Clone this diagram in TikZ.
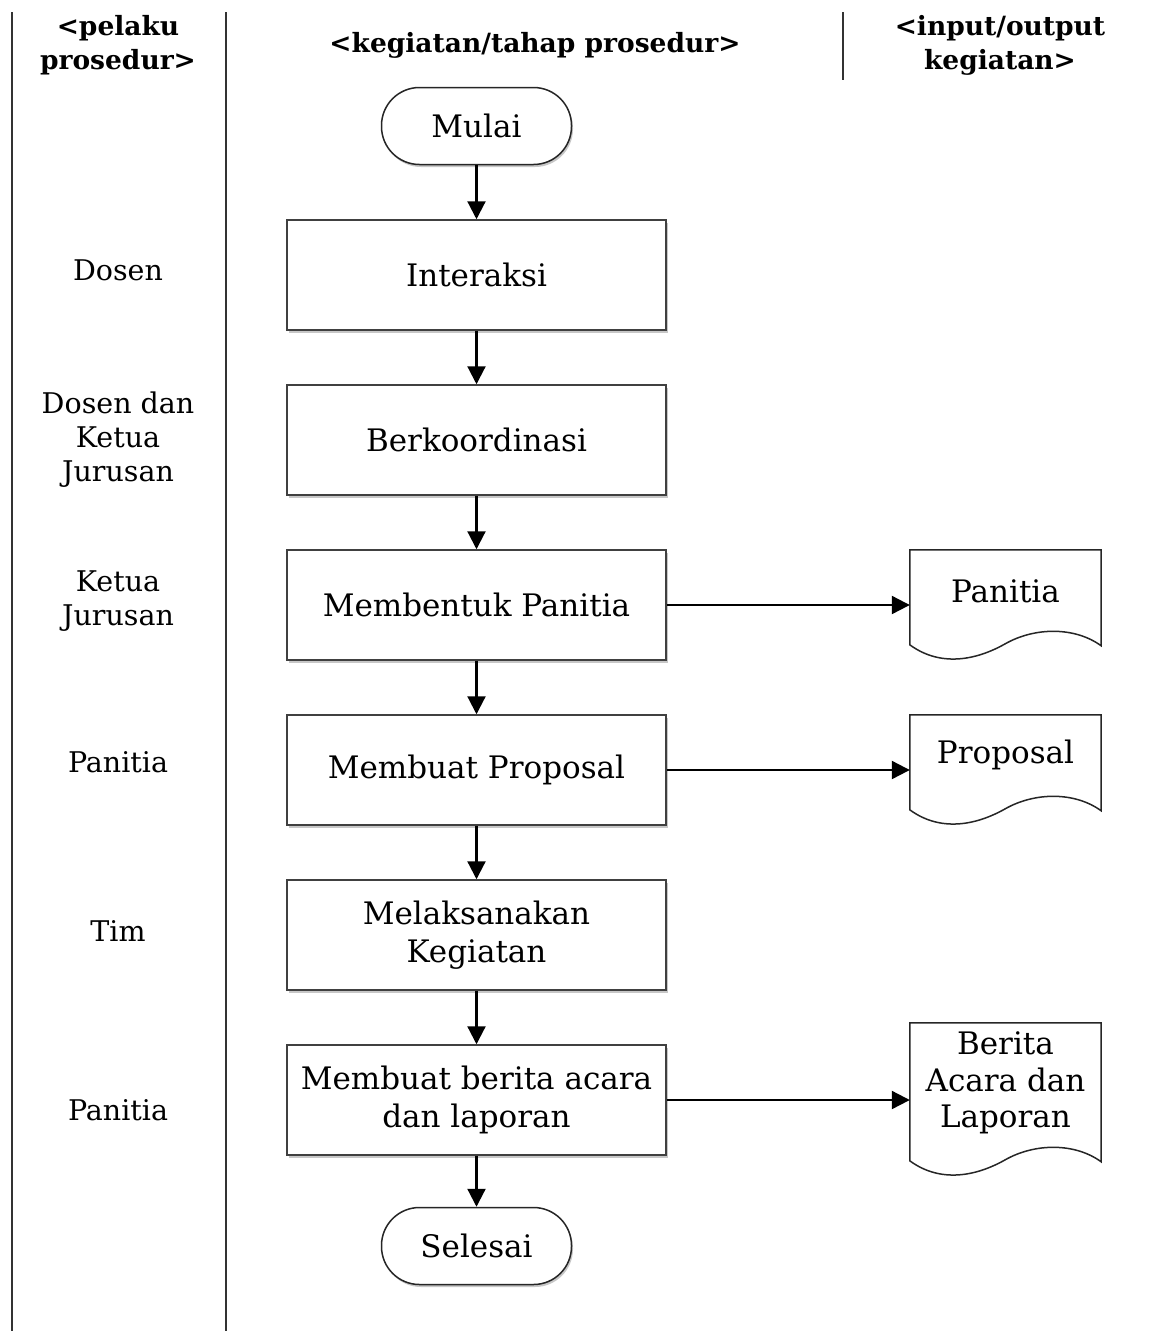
\documentclass[tikz,border=0pt]{standalone}
\usepackage{fontspec}
\setmainfont{DejaVu Serif}
\usetikzlibrary{arrows.meta,calc,shadows}
\tikzset{
  boxfont/.style={font=\fontsize{31}{38}\selectfont},
  proc/.style={boxfont, draw=black!75, line width=1.5pt, minimum width=379pt, minimum height=110pt,
    align=center, fill=white, inner sep=0pt,
    drop shadow={shadow xshift=1.5pt, shadow yshift=-2.5pt, fill=black!22, opacity=1}},
  term/.style={boxfont, draw=black!85, line width=1.5pt, rounded corners=38pt, minimum width=190pt,
    minimum height=77pt, fill=white, inner sep=0pt,
    drop shadow={shadow xshift=1.5pt, shadow yshift=-2.5pt, fill=black!22, opacity=1}},
  docnode/.style={font=\fontsize{31}{36.5}\selectfont, minimum width=191pt, inner sep=0pt, align=center},
  docline/.style={draw=black!85, line width=1.5pt},
  lane/.style={font=\fontsize{28.5}{34}\selectfont, align=center},
  head/.style={font=\bfseries\fontsize{26.5}{34}\selectfont, align=center},
  flow/.style={line width=2.2pt, -{Triangle[width=18pt,length=18pt]}},
  sep/.style={line width=2pt, black!80},
}
\newcommand\docpath[2]{%
  \draw[docline] (#1.north west) -- (#1.north east) -- ++(0,#2)
    .. controls +(-26,-19) and +(30,-17) .. ++(-96,-2)
    .. controls +(-30,17) and +(30,22) .. ($(#1.north west)+(0,#2-1)$) -- cycle;}
\begin{document}
\begin{tikzpicture}[x=1pt,y=-1pt]
\useasboundingbox (0,0) rectangle (1157,1331);
% lane separators
\draw[sep] (12,12) -- (12,1331);
\draw[sep] (226,12) -- (226,1331);
\draw[sep] (843,12) -- (843,80);
% headers
\node[head] (h1) at (118,45) {<pelaku\\prosedur>};
\node[head] (h2) at (535,45) {<kegiatan/tahap prosedur>};
\node[head] (h3) at (1000,45) {<input/output\\kegiatan>};
% lane labels
\node[lane] (l1) at (118,270) {Dosen};
\node[lane] (l2) at (118,440) {Dosen dan\\Ketua\\Jurusan};
\node[lane] (l3) at (118,601) {Ketua\\Jurusan};
\node[lane] (l4) at (118,762) {Panitia};
\node[lane] (l5) at (118,931) {Tim};
\node[lane] (l6) at (118,1110) {Panitia};
% flow
\node[term] (mulai) at (476.5,126) {Mulai};
\node[proc] (interaksi) at (476.5,275) {Interaksi};
\node[proc] (koord) at (476.5,440) {Berkoordinasi};
\node[proc] (bentuk) at (476.5,605) {Membentuk Panitia};
\node[proc] (proposal) at (476.5,770) {Membuat Proposal};
\node[proc] (laksana) at (476.5,935) {Melaksanakan\\Kegiatan};
\node[proc] (berita) at (476.5,1100) {Membuat berita acara\\dan laporan};
\node[term] (selesai) at (476.5,1246) {Selesai};
% documents
\node[docnode, minimum height=82pt] (dpanitia) at (1005.5,591) {Panitia};
\docpath{dpanitia}{96}
\node[docnode, minimum height=80pt] (dproposal) at (1005.5,755) {Proposal};
\docpath{dproposal}{96}
\node[docnode, minimum height=120pt] (dberita) at (1005.5,1083) {Berita\\Acara dan\\Laporan};
\docpath{dberita}{139}
% connectors
\draw[flow] (mulai) -- (interaksi);
\draw[flow] (interaksi) -- (koord);
\draw[flow] (koord) -- (bentuk);
\draw[flow] (bentuk) -- (proposal);
\draw[flow] (proposal) -- (laksana);
\draw[flow] (laksana) -- (berita);
\draw[flow] (berita) -- (selesai);
\draw[flow] (bentuk.east) -- (bentuk.east -| dpanitia.west);
\draw[flow] (proposal.east) -- (proposal.east -| dproposal.west);
\draw[flow] (berita.east) -- (berita.east -| dberita.west);
\end{tikzpicture}
\end{document}
